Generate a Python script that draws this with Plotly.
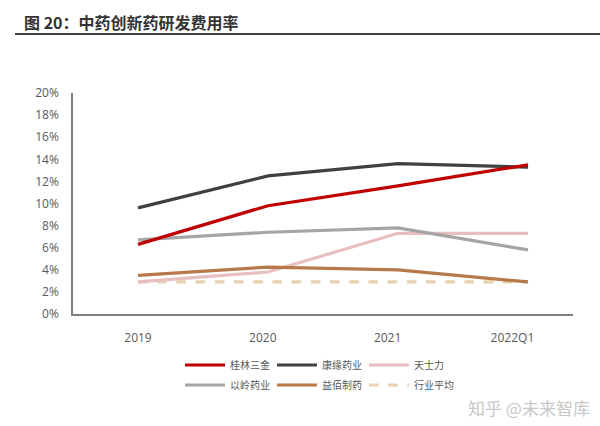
import plotly.graph_objects as go

categories = ["2019", "2020", "2021", "2022Q1"]
guilin_sanjin = [6.3, 9.8, 11.6, 13.5]
kangyuan = [9.6, 12.5, 13.6, 13.3]
tianshili = [2.9, 3.8, 7.3, 7.3]
yiling = [6.7, 7.4, 7.8, 5.8]
yibai = [3.5, 4.25, 4.0, 2.9]
industry_avg = [2.9, 2.9, 2.9, 2.9]
y_ticks = [0, 2, 4, 6, 8, 10, 12, 14, 16, 18, 20]
y_tick_labels = [f"{v}%" for v in y_ticks]

series = [
    ("桂林三金", guilin_sanjin, "#C00000", "solid", "legend"),
    ("康缘药业", kangyuan, "#404040", "solid", "legend"),
    ("天士力", tianshili, "#E8BFC0", "solid", "legend"),
    ("以岭药业", yiling, "#A5A5A5", "solid", "legend2"),
    ("益佰制药", yibai, "#B8794A", "solid", "legend2"),
    ("行业平均", industry_avg, "#E6D2AE", "dash", "legend2"),
]

x_idx = list(range(len(categories)))
fig = go.Figure()
order = [5, 2, 3, 4, 1, 0]
for i in order:
    name, vals, color, dash, lg = series[i]
    fig.add_trace(go.Scatter(
        x=x_idx, y=vals, mode="lines", name=name,
        line=dict(color=color, width=3.2, dash=dash),
        legend=lg, legendrank=i,
    ))

font_cjk = "Noto Sans CJK SC"
leg_common = dict(orientation="h", xref="container", xanchor="left",
                  yref="container", yanchor="middle", itemwidth=40,
                  entrywidth=37, entrywidthmode="pixels", traceorder="normal",
                  font=dict(size=10, color="#595959"), bgcolor="rgba(0,0,0,0)")
fig.update_layout(
    width=600, height=426,
    margin=dict(l=73, r=27, t=93, b=112, autoexpand=False),
    plot_bgcolor="white", paper_bgcolor="white",
    font=dict(family=font_cjk, color="#595959"),
    showlegend=True,
    legend=dict(x=180 / 600, y=(426 - 365) / 426, **leg_common),
    legend2=dict(x=180 / 600, y=(426 - 385) / 426, **leg_common),
    xaxis=dict(range=[-0.5, 3.346], tickvals=[0, 0.96, 1.92, 2.88], ticktext=categories,
               showgrid=False, zeroline=False, showline=True, linecolor="#7F7F7F",
               linewidth=1.5, ticks="", tickfont=dict(size=12, color="#595959",
               family="Open Sans"), ticklabelstandoff=12),
    yaxis=dict(range=[0, 20], tickvals=y_ticks, ticktext=y_tick_labels, showgrid=False,
               zeroline=False, showline=True, linecolor="#7F7F7F", linewidth=1.5,
               ticks="", tickfont=dict(size=12, color="#595959", family="Open Sans"),
               ticklabelstandoff=10),
)

fig.add_annotation(text="<b>图 20：中药创新药研发费用率</b>", xref="paper", yref="paper",
                   x=(22 - 73) / 500, y=(314 - 22) / 221, xanchor="left", yanchor="middle",
                   showarrow=False, font=dict(size=16, color="#333333", family=font_cjk))
fig.add_shape(type="line", xref="paper", yref="paper",
              x0=(15 - 73) / 500, x1=(600 - 73) / 500,
              y0=(314 - 34) / 221, y1=(314 - 34) / 221,
              line=dict(color="#404040", width=2))
fig.add_annotation(text="知乎 @未来智库", xref="paper", yref="paper",
                   x=(592 - 73) / 500, y=(314 - 407) / 221, xanchor="right", yanchor="middle",
                   showarrow=False, font=dict(size=17, color="#C8C8C8", family=font_cjk))

fig.write_html("out.html")
